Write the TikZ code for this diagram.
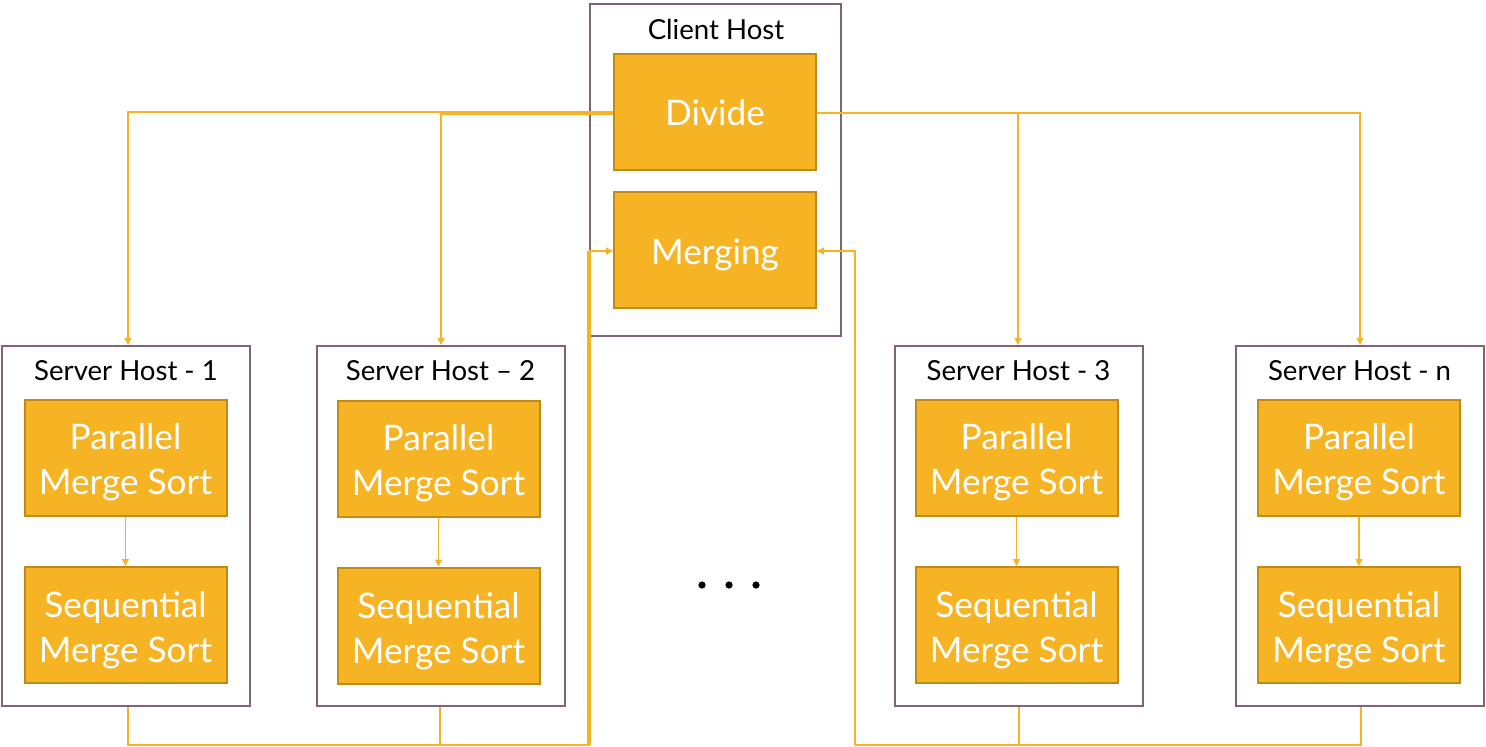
\documentclass[tikz,border=0pt]{standalone}
\usepackage{fontspec}
\setmainfont{Lato}
\usetikzlibrary{arrows.meta}
\definecolor{ofill}{HTML}{F6B324}
\definecolor{odraw}{HTML}{BF8A16}
\definecolor{host}{HTML}{7F6378}
\definecolor{wire}{HTML}{F6B324}
\newcommand\boxtxt[2][-2.6pt]{\raisebox{#1}[\height][\depth]{\begin{tabular}{@{}c@{}}#2\end{tabular}}}
\begin{document}
\begin{tikzpicture}[x=0.5pt,y=-0.5pt,
  hostbox/.style={draw=host,line width=1pt,minimum width=124pt,minimum height=180pt,inner sep=0pt},
  bigbox/.style={draw=host,line width=1pt,minimum width=125.5pt,minimum height=166pt,inner sep=0pt},
  obox/.style={draw=odraw,line width=1pt,fill=ofill,minimum width=101pt,minimum height=58pt,inner sep=0pt,
    text=white,font=\fontsize{17.6}{22.5}\selectfont,align=center},
  hlabel/.style={font=\fontsize{13.8}{16}\selectfont,inner sep=0pt,anchor=base},
  wirel/.style={draw=wire,line width=0.6pt},
  arr/.style={wirel,-{Triangle[length=3.5pt,width=3.5pt]}}
]
\useasboundingbox (0,0) rectangle (1486,746);
% client
\node[bigbox] (client) at (715.5,170) {};
\node[hlabel] (clab) at (716,39) {Client Host};
\node[obox] (divide) at (715,111.5) {\boxtxt{Divide}};
\node[obox] (merge) at (715,250) {\boxtxt{Merging}};
% servers
\node[hostbox] (s1) at (126,526) {};
\node[hostbox] (s2) at (440.5,526) {};
\node[hostbox] (s3) at (1018.5,526) {};
\node[hostbox] (s4) at (1359.5,526) {};
\node[hlabel] (l1) at (126,380) {Server Host - 1};
\node[hlabel] (l2) at (440.5,380) {Server Host – 2};
\node[hlabel] (l3) at (1018.5,380) {Server Host - 3};
\node[hlabel] (l4) at (1359.5,380) {Server Host - n};
\node[obox] (p1) at (125.5,458) {\boxtxt{Parallel\\Merge Sort}};
\node[obox] (q1) at (125.5,625) {\boxtxt[-3pt]{Sequential\\Merge Sort}};
\node[obox] (p2) at (438.5,458.5) {\boxtxt{Parallel\\Merge Sort}};
\node[obox] (q2) at (438.5,625.5) {\boxtxt[-3pt]{Sequential\\Merge Sort}};
\node[obox] (p3) at (1016.5,458) {\boxtxt{Parallel\\Merge Sort}};
\node[obox] (q3) at (1016.5,625) {\boxtxt[-3pt]{Sequential\\Merge Sort}};
\node[obox] (p4) at (1359,458) {\boxtxt{Parallel\\Merge Sort}};
\node[obox] (q4) at (1359,625) {\boxtxt[-3pt]{Sequential\\Merge Sort}};
\foreach \i in {1,2,3,4} {\draw[arr] (p\i) -- (q\i);}
% divide connectors
\draw[arr] (divide.west |- 0,112) -| (s1.north -| 128,0);
\draw[arr] (divide.west |- 0,114) -| (s2.north -| 441,0);
\draw[arr] (divide.east |- 0,113) -| (s3.north -| 1018,0);
\draw[arr] (divide.east |- 0,113) -| (s4.north -| 1360,0);
% merging connectors
\coordinate (bl) at (590,745);
\coordinate (br) at (855,745);
\draw[wirel] (s1.south -| 128,0) |- (bl);
\draw[wirel] (s2.south -| 440,0) |- (bl);
\draw[arr] (bl) -- (590,251) -- (merge.west |- 0,251);
\draw[wirel] (588,745) -- (588,251);
\draw[wirel] (s3.south -| 1019,0) |- (br);
\draw[wirel] (s4.south -| 1361,0) |- (br);
\draw[arr] (br) -- (855,251) -- (merge.east |- 0,251);
% dots
\foreach \x [count=\k] in {702,729,756} {\fill (\x,585) circle (3.6) node (d\k) {};}
\end{tikzpicture}
\end{document}
